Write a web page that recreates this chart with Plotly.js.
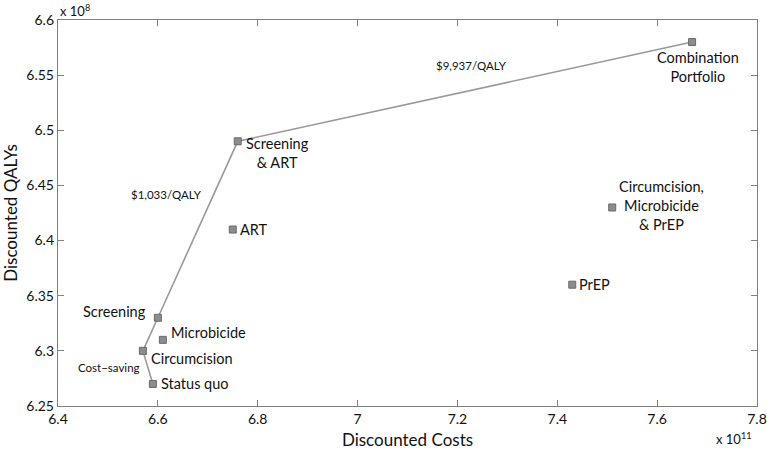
<!DOCTYPE html>
<html><head><meta charset="utf-8">
<script src="https://cdn.plot.ly/plotly-3.0.1.min.js"></script>
<style>html,body{margin:0;padding:0;background:#fff}#c{width:767px;height:451px}</style>
</head><body><div id="c"></div>
<script>
// Data (costs in units of 1e11, QALYs in units of 1e8)
const strategies = ["Status quo","Circumcision","Screening","Microbicide","ART","Screening & ART","PrEP","Circumcision, Microbicide & PrEP","Combination Portfolio"];
const costs = [6.59, 6.57, 6.60, 6.61, 6.75, 6.76, 7.43, 7.51, 7.67];
const qalys = [6.27, 6.30, 6.33, 6.31, 6.41, 6.49, 6.36, 6.43, 6.58];
const frontier = ["Status quo","Circumcision","Screening","Screening & ART","Combination Portfolio"];
const labelText = ["Status quo","Circumcision","Screening","Microbicide","ART","Screening<br>& ART","PrEP","Circumcision,<br>Microbicide<br>& PrEP","Combination<br>Portfolio"];
const icerLabels = ["Cost\u2212saving","$1,033/QALY","$9,937/QALY"];
const icerPos = [{x:6.503,y:6.285},{x:6.618,y:6.442},{x:7.229,y:6.559}];
const xTicks = [6.4,6.6,6.8,7,7.2,7.4,7.6,7.8];
const yTicks = [6.25,6.3,6.35,6.4,6.45,6.5,6.55,6.6];

const idx = frontier.map(n => strategies.indexOf(n));
const FONT = "Lato, 'Open Sans', sans-serif";

// label placement styles (offsets only)
const place = {
  "Status quo":{xanchor:"left",yanchor:"middle",xshift:6,yshift:0,align:"left"},
  "Circumcision":{xanchor:"left",yanchor:"middle",xshift:6,yshift:-8,align:"left"},
  "Screening":{xanchor:"right",yanchor:"middle",xshift:-10,yshift:6,align:"right"},
  "Microbicide":{xanchor:"left",yanchor:"middle",xshift:6,yshift:7,align:"left"},
  "ART":{xanchor:"left",yanchor:"middle",xshift:5,yshift:0,align:"left"},
  "Screening & ART":{xanchor:"left",yanchor:"middle",xshift:6,yshift:-12,align:"center"},
  "PrEP":{xanchor:"left",yanchor:"middle",xshift:5,yshift:0,align:"left"},
  "Circumcision, Microbicide & PrEP":{xanchor:"center",yanchor:"middle",xshift:49,yshift:2,align:"center"},
  "Combination Portfolio":{xanchor:"center",yanchor:"top",xshift:6,yshift:-5,align:"center"}
};

const annotations = strategies.map((s,i)=>Object.assign({
  x:costs[i], y:qalys[i], xref:"x", yref:"y", text:labelText[i], showarrow:false,
  font:{family:FONT,size:14.5,color:"#111"}
}, place[s]));
icerLabels.forEach((t,i)=>annotations.push({x:icerPos[i].x,y:icerPos[i].y,xref:"x",yref:"y",text:t,showarrow:false,font:{family:FONT,size:11.5,color:"#111"}}));
annotations.push({x:0,y:1,xref:"paper",yref:"paper",xanchor:"left",yanchor:"bottom",yshift:-1,text:"x 10<sup>8</sup>",showarrow:false,font:{family:FONT,size:13,color:"#111"}});
annotations.push({x:1,y:0,xref:"paper",yref:"paper",xanchor:"right",yanchor:"top",yshift:-22,xshift:-4,text:"x 10<sup>11</sup>",showarrow:false,font:{family:FONT,size:13,color:"#111"}});

const traces = [
  {x:idx.map(i=>costs[i]), y:idx.map(i=>qalys[i]), mode:"lines", line:{color:"#999",width:1.6}, hoverinfo:"skip"},
  {x:costs, y:qalys, text:strategies, mode:"markers", marker:{symbol:"square",size:7,color:"#8c8c8c",line:{color:"#6a6a6a",width:1}}}
];

const axisBase = {showgrid:false, zeroline:false, showline:true, linecolor:"#808080", linewidth:1.2,
  mirror:"ticks", ticks:"inside", ticklen:6, tickcolor:"#808080", tickfont:{family:FONT,size:14,color:"#111"}};

const layout = {
  width:767, height:451, margin:{l:58,r:10,t:20,b:45}, showlegend:false,
  paper_bgcolor:"#fff", plot_bgcolor:"#fff",
  xaxis:Object.assign({}, axisBase, {range:[6.4,7.8], tickvals:xTicks, ticktext:xTicks.map(v=>String(v)),
    title:{text:"Discounted Costs", font:{family:FONT,size:17,color:"#111"}, standoff:8}}),
  yaxis:Object.assign({}, axisBase, {range:[6.25,6.6], tickvals:yTicks, ticktext:yTicks.map(v=>String(v)),
    title:{text:"Discounted QALYs", font:{family:FONT,size:17,color:"#111"}, standoff:6}}),
  annotations:annotations
};
Plotly.newPlot("c", traces, layout, {displayModeBar:false, staticPlot:true});
</script></body></html>
